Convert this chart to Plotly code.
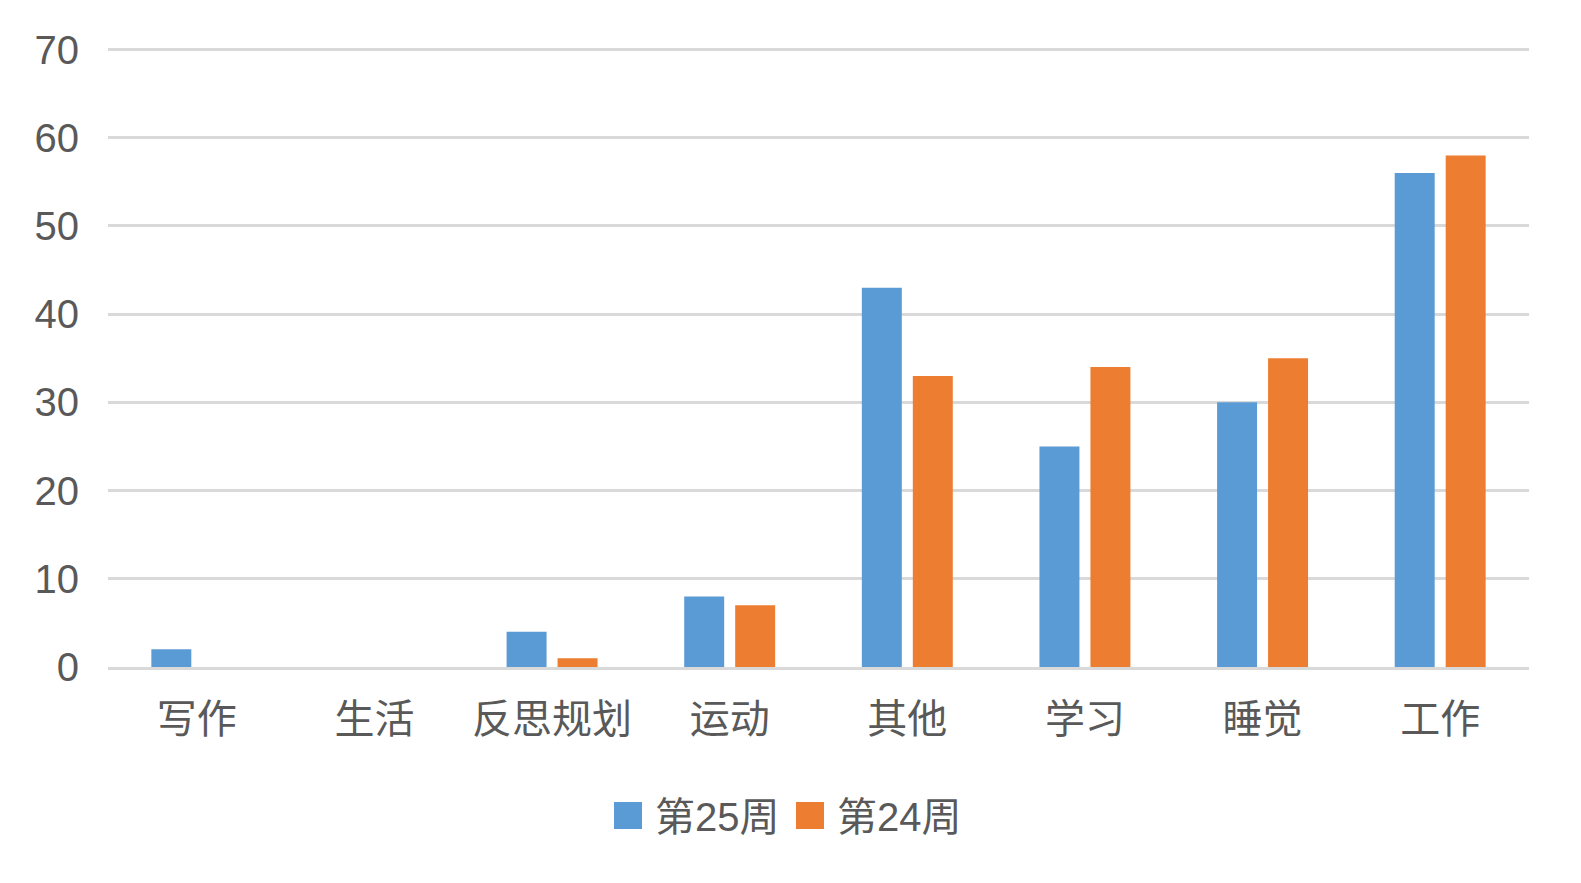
import plotly.graph_objects as go

categories = ["写作", "生活", "反思规划", "运动", "其他", "学习", "睡觉", "工作"]
week25 = [2, 0, 4, 8, 43, 25, 30, 56]
week24 = [0, 0, 1, 7, 33, 34, 35, 58]
series_names = ["第25周", "第24周"]
colors = ["#5B9BD5", "#ED7D31"]
y_ticks = [0, 10, 20, 30, 40, 50, 60, 70]

FONT = "Liberation Sans, Arial, Noto Sans CJK SC, sans-serif"
TEXT = "#595959"
GRID = "#D9D9D9"

TOP, BOT = 46, 667
PH = BOT - TOP
YMAX = 70.4

fig = go.Figure()
for name, vals, c in zip(series_names, [week25, week24], colors):
    fig.add_trace(go.Bar(x=categories, y=vals, name=name, marker=dict(color=c, line=dict(width=0)),
                         showlegend=False))

# manual legend (squares + labels)
items = [(614, 642, 653), (796, 824, 835)]
for (x0, x1, tx), name, c in zip(items, series_names, colors):
    fig.add_shape(type="rect", xref="paper", yref="paper",
                  x0=(x0 - 108) / 1421, x1=(x1 - 108) / 1421,
                  y0=(BOT - 829) / PH, y1=(BOT - 802) / PH,
                  fillcolor=c, line=dict(width=0))
    fig.add_annotation(text=name, xref="paper", yref="paper",
                       x=(tx - 108) / 1421, y=(BOT - 817) / PH,
                       xanchor="left", yanchor="middle", showarrow=False,
                       font=dict(family=FONT, size=40, color=TEXT))

fig.update_layout(
    width=1581, height=883,
    margin=dict(l=108, r=52, t=TOP, b=883 - BOT),
    paper_bgcolor="white", plot_bgcolor="white",
    barmode="group", bargap=0.426, bargroupgap=0.216,
    font=dict(family=FONT, size=40, color=TEXT),
)
fig.update_yaxes(range=[0, YMAX], tickvals=y_ticks, showgrid=True, gridcolor=GRID, gridwidth=2.5,
                 zeroline=False, showline=False, ticks="", ticklabelstandoff=28,
                 tickfont=dict(family=FONT, size=40, color=TEXT))
fig.update_xaxes(showline=True, linecolor=GRID, linewidth=2.5, ticks="", showgrid=False,
                 ticklabelstandoff=15, tickfont=dict(family=FONT, size=40, color=TEXT))

fig.write_html("out.html")
